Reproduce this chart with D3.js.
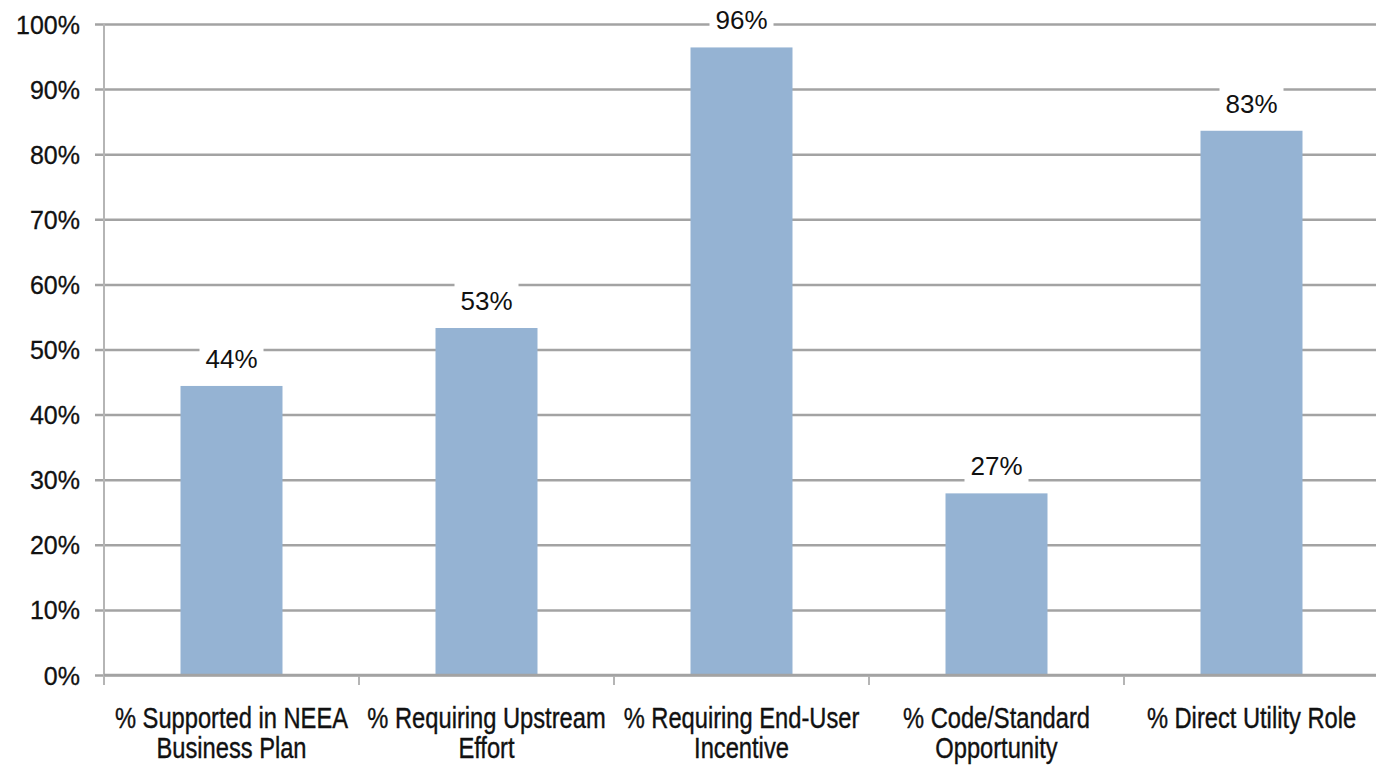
<!DOCTYPE html>
<html>
<head>
<meta charset="utf-8">
<script src="https://cdn.jsdelivr.net/npm/d3@7"></script>
<style>
  html, body { margin: 0; padding: 0; background: #fff; }
  svg { display: block; font-family: "Liberation Sans", Arial, sans-serif; }
</style>
</head>
<body>
<svg id="chart" width="1376" height="770"></svg>
<script>
// data
const categories = [
  "% Supported in NEEA Business Plan",
  "% Requiring Upstream Effort",
  "% Requiring End-User Incentive",
  "% Code/Standard Opportunity",
  "% Direct Utility Role"
];
const categoryLines = [
  ["% Supported in NEEA", "Business Plan"],
  ["% Requiring Upstream", "Effort"],
  ["% Requiring End-User", "Incentive"],
  ["% Code/Standard", "Opportunity"],
  ["% Direct Utility Role"]
];
const values = [44.4, 53.3, 96.4, 27.9, 83.6];
const valueLabels = ["44%", "53%", "96%", "27%", "83%"];
const yTicks = [0, 10, 20, 30, 40, 50, 60, 70, 80, 90, 100];

const svg = d3.select("#chart");
const plotLeft = 104, plotRight = 1379, plotTop = 24, plotBottom = 675;

const x = d3.scaleBand()
  .domain(categories)
  .range([plotLeft, plotRight])
  .paddingInner(0.6)
  .paddingOuter(0.3);

const y = d3.scaleLinear().domain([0, 100]).range([plotBottom, plotTop]);

// gridlines + y labels
const yAxis = svg.append("g")
  .attr("transform", `translate(${plotLeft},0)`)
  .call(d3.axisLeft(y).tickValues(yTicks).tickSize(-(1376 - plotLeft)).tickSizeOuter(0).tickPadding(24).tickFormat(d => d + "%"));
yAxis.select(".domain").remove();
yAxis.selectAll(".tick line")
  .attr("x1", -9)
  .attr("stroke", "#a3a3a3")
  .attr("stroke-width", 2.5);
yAxis.selectAll(".tick text")
  .attr("fill", "#111")
  .attr("stroke", "#111")
  .attr("stroke-width", 0.3)
  .attr("font-size", 25)
  .attr("dy", "0.36em");

// vertical axis line
svg.append("line")
  .attr("x1", plotLeft).attr("x2", plotLeft)
  .attr("y1", plotTop).attr("y2", plotBottom + 10)
  .attr("stroke", "#b5b5b5")
  .attr("stroke-width", 2);

// x ticks at category boundaries
const step = x.step();
const bounds = categories.map(c => x(c) - step * x.paddingOuter());
svg.append("g").selectAll("line")
  .data(bounds.slice(1))
  .join("line")
  .attr("x1", d => d).attr("x2", d => d)
  .attr("y1", plotBottom).attr("y2", plotBottom + 10)
  .attr("stroke", "#b5b5b5")
  .attr("stroke-width", 2);

// bars
svg.append("g").selectAll("rect")
  .data(values)
  .join("rect")
  .attr("x", (d, i) => x(categories[i]))
  .attr("width", x.bandwidth())
  .attr("y", d => y(d))
  .attr("height", d => y(0) - y(d))
  .attr("fill", "#95b3d3");

// baseline redrawn over bars
svg.append("line")
  .attr("x1", plotLeft).attr("x2", 1376)
  .attr("y1", plotBottom).attr("y2", plotBottom)
  .attr("stroke", "#a3a3a3")
  .attr("stroke-width", 2.5);

// value labels with white boxes
const lab = svg.append("g").selectAll("g")
  .data(values)
  .join("g")
  .attr("transform", (d, i) => `translate(${x(categories[i]) + x.bandwidth() / 2},${y(d) - 18})`);
lab.append("rect")
  .attr("x", -32).attr("y", -27)
  .attr("width", 64).attr("height", 36)
  .attr("fill", "#fff");
lab.append("text")
  .attr("text-anchor", "middle")
  .attr("font-size", 26)
  .attr("fill", "#111")
  .text((d, i) => valueLabels[i]);

// category labels (condensed)
const cat = svg.append("g").selectAll("g")
  .data(categories)
  .join("g")
  .attr("transform", d => `translate(${x(d) + x.bandwidth() / 2},728) scale(0.79,1)`);
cat.selectAll("text")
  .data((d, i) => categoryLines[i])
  .join("text")
  .attr("text-anchor", "middle")
  .attr("y", (d, j) => j * 30)
  .attr("font-size", 30)
  .attr("fill", "#111")
  .attr("stroke", "#111")
  .attr("stroke-width", 0.4)
  .text(d => d);
</script>
</body>
</html>
